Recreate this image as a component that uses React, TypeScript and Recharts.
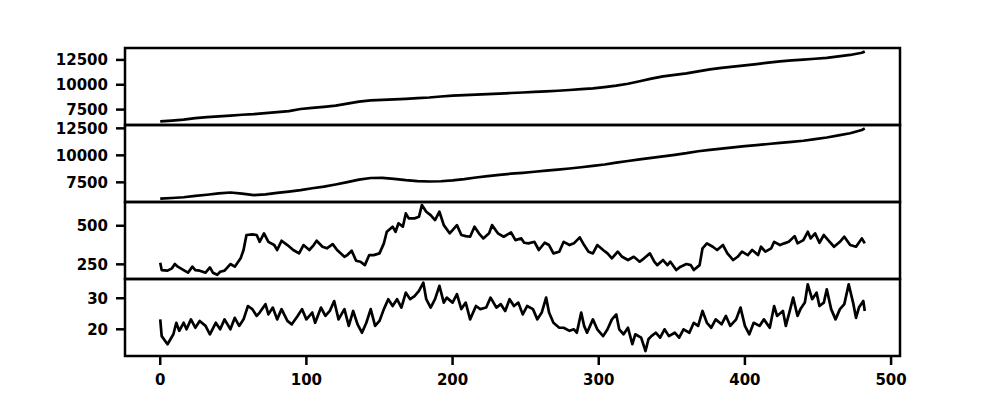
import { LineChart, Line, XAxis, YAxis, ReferenceArea } from "recharts";

// four stacked panels sharing one x axis (0..482)
const smoothX = [
  0, 8, 16, 24, 32, 40, 48, 56, 64, 72, 80, 88, 96, 104, 112, 120, 128, 136, 144, 152, 160,
  168, 176, 184, 192, 200, 208, 216, 224, 232, 240, 248, 256, 264, 272, 280, 288, 296, 304,
  312, 320, 328, 336, 344, 352, 360, 368, 376, 384, 392, 400, 408, 416, 424, 432, 440, 448,
  456, 464, 472, 480, 482,
];

const openValues = [
  6320, 6400, 6500, 6640, 6740, 6820, 6900, 6980, 7040, 7150, 7250, 7350, 7560, 7680, 7780,
  7900, 8100, 8300, 8420, 8480, 8530, 8580, 8650, 8720, 8820, 8900, 8960, 9000, 9060, 9110,
  9170, 9220, 9280, 9330, 9400, 9470, 9560, 9640, 9770, 9920, 10100, 10350, 10620, 10850,
  11000, 11150, 11350, 11550, 11700, 11820, 11950, 12080, 12220, 12350, 12450, 12530, 12620,
  12700, 12850, 13000, 13220, 13350,
];

const closeValues = [
  6000, 6050, 6120, 6240, 6350, 6480, 6560, 6460, 6320, 6380, 6520, 6640, 6780, 6950, 7100,
  7300, 7520, 7750, 7900, 7920, 7820, 7700, 7620, 7580, 7600, 7680, 7800, 7950, 8080, 8200,
  8300, 8380, 8480, 8580, 8680, 8780, 8900, 9020, 9150, 9320, 9480, 9620, 9760, 9900, 10050,
  10200, 10380, 10500, 10620, 10740, 10850, 10950, 11050, 11150, 11250, 11350, 11500, 11650,
  11850, 12050, 12350, 12500,
];

const rangeX = [
  0, 1, 5, 8, 10, 12, 16, 19, 22, 24, 27, 31, 34, 36, 39, 41, 44, 48, 51, 55, 57, 59, 63, 66,
  68, 71, 74, 78, 80, 83, 87, 91, 95, 98, 102, 105, 107, 111, 114, 118, 121, 126, 128, 131,
  134, 137, 140, 143, 146, 150, 153, 155, 159, 161, 163, 166, 168, 170, 174, 177, 179, 182,
  185, 188, 191, 194, 198, 200, 203, 206, 209, 212, 215, 218, 221, 225, 227, 231, 235, 240,
  243, 247, 249, 252, 256, 259, 263, 266, 269, 273, 276, 280, 283, 287, 290, 293, 296, 299,
  303, 306, 309, 313, 316, 320, 324, 328, 331, 335, 338, 340, 344, 347, 349, 353, 356, 360,
  363, 365, 369, 371, 374, 378, 381, 385, 388, 392, 395, 398, 402, 405, 409, 411, 414, 418,
  420, 424, 427, 430, 434, 436, 440, 443, 445, 448, 451, 454, 458, 461, 465, 468, 472, 476,
  480, 482,
];

const rangeValues = [
  260, 213, 209, 224, 252, 235, 213, 196, 235, 213, 209, 196, 230, 196, 182, 202, 209, 252,
  235, 289, 343, 440, 444, 440, 396, 451, 396, 375, 343, 403, 375, 343, 321, 375, 343, 375,
  403, 364, 354, 381, 343, 299, 310, 338, 273, 267, 245, 310, 310, 321, 386, 461, 494, 461,
  516, 494, 580, 548, 548, 558, 634, 591, 569, 537, 591, 504, 451, 472, 504, 440, 433, 429,
  494, 451, 418, 451, 504, 451, 429, 457, 407, 418, 390, 386, 396, 343, 390, 375, 321, 332,
  396, 375, 386, 425, 375, 332, 321, 375, 343, 321, 289, 332, 299, 278, 299, 267, 289, 321,
  267, 245, 278, 245, 267, 213, 235, 252, 245, 213, 245, 354, 386, 364, 343, 375, 321, 278,
  299, 332, 310, 343, 310, 364, 332, 354, 396, 375, 386, 396, 433, 386, 407, 461, 418, 451,
  390, 440, 396, 364, 396, 429, 375, 364, 418, 386,
];

const pctX = [
  0, 1, 5, 7, 9, 11, 13, 16, 18, 21, 24, 27, 31, 34, 38, 41, 44, 48, 51, 54, 57, 60, 63, 66,
  68, 72, 74, 77, 80, 83, 87, 90, 94, 97, 100, 104, 106, 110, 113, 116, 119, 122, 126, 129,
  132, 135, 138, 141, 144, 147, 150, 153, 156, 159, 162, 165, 168, 171, 174, 177, 180, 182,
  185, 188, 191, 194, 196, 200, 203, 206, 209, 212, 216, 219, 223, 226, 230, 233, 236, 239,
  242, 245, 248, 251, 255, 258, 261, 264, 266, 269, 273, 276, 280, 283, 285, 288, 290, 292,
  296, 299, 303, 306, 309, 312, 314, 317, 320, 323, 325, 329, 332, 334, 336, 339, 342, 345,
  348, 352, 355, 358, 362, 365, 368, 371, 374, 377, 380, 384, 387, 390, 394, 397, 400, 403,
  406, 410, 413, 417, 420, 422, 426, 428, 431, 433, 436, 438, 441, 443, 446, 449, 451, 454,
  456, 459, 462, 465, 468, 471, 474, 476, 478, 481, 482,
];

const pctValues = [
  23.2, 17.8, 15.2, 16.8, 18.4, 22.1, 19.5, 22.1, 20.0, 23.2, 20.5, 22.7, 21.1, 18.4, 22.1,
  20.0, 23.2, 20.0, 23.7, 21.1, 23.2, 27.5, 26.5, 24.3, 25.4, 28.1, 24.8, 27.0, 23.2, 26.5,
  22.7, 21.6, 24.3, 26.5, 23.2, 25.4, 22.1, 27.0, 24.3, 25.9, 29.1, 23.2, 26.5, 21.1, 25.9,
  21.6, 18.9, 22.1, 26.5, 21.1, 22.7, 26.5, 29.7, 27.5, 29.7, 27.0, 31.8, 29.7, 30.7, 32.4,
  35.0, 29.7, 27.0, 29.7, 34.0, 28.6, 30.2, 28.6, 31.3, 26.5, 28.6, 23.2, 27.5, 26.5, 27.0,
  30.2, 27.0, 28.1, 25.9, 29.7, 27.5, 28.6, 24.8, 27.5, 26.5, 23.2, 25.4, 30.2, 25.4, 22.1,
  20.5, 20.5, 19.5, 20.0, 18.9, 25.4, 21.1, 18.9, 23.2, 20.0, 17.8, 20.0, 23.2, 24.8, 20.0,
  18.4, 20.5, 15.2, 18.4, 17.3, 13.0, 16.8, 17.8, 18.9, 17.3, 20.0, 17.8, 18.9, 17.3, 20.0,
  18.9, 22.1, 21.1, 25.9, 22.1, 20.5, 23.2, 21.6, 24.3, 21.1, 23.2, 27.0, 21.1, 18.4, 22.1,
  21.1, 23.2, 20.5, 27.5, 24.3, 25.9, 21.1, 26.5, 30.2, 24.3, 26.5, 28.6, 34.5, 29.7, 31.8,
  27.5, 28.6, 32.9, 26.5, 23.2, 26.5, 28.1, 34.5, 28.6, 23.7, 27.0, 29.1, 25.9,
];

const xTicks = [0, 100, 200, 300, 400, 500];
const X_DOMAIN: [number, number] = [-24.1, 506.1];

const PLOT_H = 77;
const SPINE = 2.5;
const tickStyle = { fill: "#000", fontSize: 15, fontFamily: "DejaVu Sans", fontWeight: "bold" };
const tickLine = { stroke: "#000", strokeWidth: SPINE };

const panels = [
  { xs: smoothX, ys: openValues, domain: [5950, 13700], ticks: [7500, 10000, 12500], top: 48 },
  { xs: smoothX, ys: closeValues, domain: [5680, 12810], ticks: [7500, 10000, 12500], top: 125 },
  { xs: rangeX, ys: rangeValues, domain: [155, 654], ticks: [250, 500], top: 202 },
  { xs: pctX, ys: pctValues, domain: [11.4, 36.2], ticks: [20, 30], top: 279 },
];

function Panel({ xs, ys, domain, ticks, top, last }: any) {
  const data = xs.map((x: number, i: number) => ({ x, v: ys[i] }));
  const mTop = 12;
  const axisH = 40;
  const height = mTop + PLOT_H + (last ? axisH : 12);

  return (
    <div style={{ position: "absolute", left: 0, top: top - mTop }}>
      <LineChart
        width={1000}
        height={height}
        data={data}
        margin={{ top: mTop, right: 100, bottom: last ? 0 : 12, left: 65 }}
      >
        <XAxis
          type="number"
          dataKey="x"
          domain={X_DOMAIN}
          allowDataOverflow
          ticks={xTicks}
          interval={0}
          hide={!last}
          height={axisH}
          tickSize={9}
          tickMargin={9}
          tick={tickStyle}
          tickLine={tickLine}
          axisLine={false}
        />
        <YAxis
          type="number"
          domain={domain}
          allowDataOverflow
          ticks={ticks}
          interval={0}
          width={60}
          tickSize={9}
          tickMargin={8}
          tick={tickStyle}
          tickLine={tickLine}
          axisLine={false}
        />
        <Line
          type="linear"
          dataKey="v"
          stroke="#000"
          strokeWidth={2.7}
          strokeLinejoin="round"
          dot={false}
          isAnimationActive={false}
        />
        <ReferenceArea
          x1={X_DOMAIN[0]}
          x2={X_DOMAIN[1]}
          y1={domain[0]}
          y2={domain[1]}
          fill="none"
          stroke="#000"
          strokeWidth={SPINE}
          ifOverflow="visible"
        />
      </LineChart>
    </div>
  );
}

export default function App() {
  return (
    <div style={{ position: "absolute", left: 0, top: 0, width: 1000, height: 400, background: "#fff" }}>
      {panels.map((p, i) => (
        <Panel key={i} {...p} last={i === panels.length - 1} />
      ))}
    </div>
  );
}
